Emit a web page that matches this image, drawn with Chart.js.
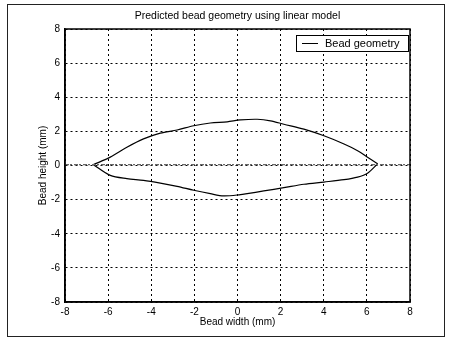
<!DOCTYPE html>
<html><head><meta charset="utf-8">
<script src="https://cdn.jsdelivr.net/npm/chart.js@4/dist/chart.umd.min.js"></script>
<style>html,body{margin:0;padding:0;background:#fff}#w{width:450px;height:342px;position:relative}</style>
</head><body><div id="w"><canvas id="c" width="450" height="342"></canvas></div>
<script>
const chartTitle = "Predicted bead geometry using linear model";
const xTitle = "Bead width (mm)";
const yTitle = "Bead height (mm)";
const seriesLabel = "Bead geometry";
const tickValues = [-8,-6,-4,-2,0,2,4,6,8];

const upperX = [-6.68,-5.9,-5.13,-4.36,-3.58,-2.8,-2.03,-1.26,-0.48,0.14,0.92,1.53,2.15,3.08,4.01,4.94,5.57,6.03,6.5];
const upperY = [0.05,0.49,1.07,1.56,1.9,2.08,2.33,2.49,2.56,2.67,2.71,2.62,2.42,2.13,1.74,1.26,0.87,0.48,0.1];
const lowerX = [-6.68,-5.9,-5.13,-4.36,-3.58,-2.8,-2.03,-1.26,-0.64,0.14,0.45,1.22,2.15,3.08,4.01,4.94,5.57,6.03,6.5];
const lowerY = [0.05,-0.58,-0.77,-0.87,-1.03,-1.22,-1.45,-1.65,-1.78,-1.71,-1.65,-1.49,-1.3,-1.1,-0.97,-0.83,-0.68,-0.45,0.1];
const baseX = [-8,8];
const baseY = [0.05,0.05];

const pts = (xs, ys) => xs.map((x,i)=>({x, y: ys[i]}));
const FONT = '"Liberation Sans", Arial, sans-serif';

const frame = {
  id:'frame',
  beforeDraw(ch){
    const c = ch.ctx; c.save();
    c.fillStyle='#fff'; c.fillRect(0,0,ch.width,ch.height);
    c.strokeStyle='#222'; c.lineWidth=1;
    c.strokeRect(7.5,4.5,437,332);
    const a = ch.chartArea;
    c.fillStyle='#000'; c.font='10.5px '+FONT; c.textAlign='center'; c.textBaseline='middle';
    c.fillText(chartTitle, (a.left+a.right)/2, 16);
    c.restore();
  },
  afterDatasetsDraw(ch){
    const c = ch.ctx, a = ch.chartArea; c.save();
    c.strokeStyle='#000'; c.lineWidth=1.5;
    c.strokeRect(a.left, a.top, a.right-a.left, a.bottom-a.top);
    // legend box
    const lx=296, ly=35, lw=112, lh=16;
    c.fillStyle='#fff'; c.fillRect(lx,ly,lw,lh);
    c.strokeStyle='#000'; c.lineWidth=1; c.strokeRect(lx+0.5,ly+0.5,lw,lh);
    c.beginPath(); c.moveTo(lx+6,ly+8.5); c.lineTo(lx+22,ly+8.5); c.stroke();
    c.fillStyle='#000'; c.font='11px '+FONT;
    c.textBaseline='middle'; c.fillText(seriesLabel, lx+29, ly+9);
    c.restore();
  }
};

new Chart(document.getElementById('c'), {
  type:'scatter',
  data:{datasets:[
    {label:'zero', data:pts(baseX,baseY), showLine:true, borderColor:'#666', borderWidth:1.3, borderDash:[4,1,2,2], pointRadius:0},
    {label:seriesLabel, data:pts(upperX,upperY), showLine:true, borderColor:'#000', borderWidth:1.2, pointRadius:0, tension:0.3},
    {label:seriesLabel+' ', data:pts(lowerX,lowerY), showLine:true, borderColor:'#000', borderWidth:1.2, pointRadius:0, tension:0.3}
  ]},
  options:{
    responsive:false, animation:false,
    layout:{padding:{left:37,top:29,right:40,bottom:14}},
    plugins:{ legend:{display:false}, tooltip:{enabled:false}, title:{display:false} },
    scales:{
      x:{type:'linear', min:-8, max:8,
        afterBuildTicks(s){ s.ticks = tickValues.map(v=>({value:v})); },
        afterFit(s){ s.height = 26; },
        grid:{color:'#000', lineWidth:1, drawTicks:false},
        border:{display:true, color:'#000', width:1.5, dash:[2,3]},
        ticks:{color:'#000', padding:4, font:{family:FONT, size:10}, maxRotation:0},
        title:{display:true, text:xTitle, color:'#000', padding:{top:0,bottom:0}, font:{family:FONT, size:10}}
      },
      y:{type:'linear', min:-8, max:8,
        afterBuildTicks(s){ s.ticks = tickValues.map(v=>({value:v})); },
        afterFit(s){ s.width = 28; },
        grid:{color:'#000', lineWidth:1, drawTicks:false},
        border:{display:true, color:'#000', width:1.5, dash:[2,3]},
        ticks:{color:'#000', padding:5, font:{family:FONT, size:10}},
        title:{display:true, text:yTitle, color:'#000', padding:{top:0,bottom:0}, font:{family:FONT, size:10}}
      }
    }
  },
  plugins:[frame]
});
</script></body></html>
